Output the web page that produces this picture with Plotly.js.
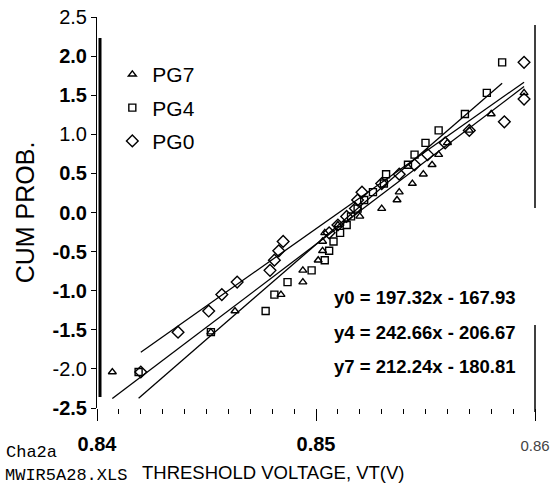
<!DOCTYPE html>
<html><head><meta charset="utf-8">
<script src="https://cdn.plot.ly/plotly-3.0.1.min.js"></script>
<style>html,body{margin:0;padding:0;background:#fff}#chart{width:554px;height:498px}</style>
</head><body><div id="chart"></div>
<script>
// ---- data ----
const seriesNames = ['PG7', 'PG4', 'PG0'];
const pg7X = [0.8407,0.8452,0.8463,0.8484,0.8494,0.8494,0.8501,0.8503,0.8503,0.8504,0.8510,0.8520,0.8530,0.8537,0.8538,0.8544,0.8549,0.8553,0.8556,0.8560,0.8570,0.8580,0.8595];
const pg7Y = [-2.04,-1.53,-1.26,-1.05,-0.89,-0.74,-0.61,-0.49,-0.37,-0.26,-0.16,-0.05,0.05,0.16,0.26,0.37,0.49,0.61,0.74,0.89,1.05,1.26,1.53];
const pg4X = [0.8419,0.8452,0.8477,0.8481,0.8487,0.8498,0.8504,0.8506,0.8508,0.8511,0.8514,0.8516,0.8519,0.8522,0.8526,0.8531,0.8532,0.8542,0.8545,0.8550,0.8556,0.8568,0.8578,0.8585];
const pg4Y = [-2.04,-1.53,-1.26,-1.05,-0.89,-0.74,-0.61,-0.49,-0.37,-0.26,-0.16,-0.05,0.05,0.16,0.26,0.37,0.49,0.61,0.74,0.89,1.05,1.26,1.53,1.92];
const pg0X = [0.8420,0.8437,0.8451,0.8457,0.8464,0.8479,0.8481,0.8483,0.8485,0.8506,0.8510,0.8514,0.8518,0.8519,0.8521,0.8530,0.8538,0.8545,0.8551,0.8559,0.8570,0.8586,0.8595,0.8595];
const pg0Y = [-2.04,-1.53,-1.26,-1.05,-0.89,-0.74,-0.61,-0.49,-0.37,-0.26,-0.16,-0.05,0.05,0.16,0.26,0.37,0.49,0.61,0.74,0.89,1.05,1.16,1.45,1.92];
const fitSlopes = [212.24, 242.66, 197.32];       // PG7, PG4, PG0
const fitIntercepts = [-180.81, -206.67, -167.93];
const fitXStart = [0.8407, 0.8419, 0.8420];
const fitXEnd = [0.8595, 0.8585, 0.8595];
const equationLabels = ['y0 = 197.32x - 167.93', 'y4 = 242.66x - 206.67', 'y7 = 212.24x - 180.81'];
const yTickVals = [-2.5,-2.0,-1.5,-1.0,-0.5,0.0,0.5,1.0,1.5,2.0,2.5];
const yTickText = ['<b>-2.5</b>','-2.0','<b>-1.5</b>','<b>-1.0</b>','<b>-0.5</b>','<b>0.0</b>','<b>0.5</b>','1.0','<b>1.5</b>','<b>2.0</b>','2.5'];
const xTickVals = [0.84, 0.85, 0.86];
const xTickText = ['<b>0.84</b>', '<b>0.85</b>', '<span style="font-size:15px;color:#444">0.86</span>'];
const yTitle = 'CUM PROB.';
const xTitle = 'THRESHOLD VOLTAGE, VT(V)';
const noteLines = ['Cha2a', 'MWIR5A28.XLS'];

// ---- build ----
const xs = [pg7X, pg4X, pg0X];
const ys = [pg7Y, pg4Y, pg0Y];
const symbols = ['triangle-up-open', 'square-open', 'diamond-open'];
const sizes = [7, 7, 9];
const traces = [];
for (let i = 0; i < 3; i++) {
  traces.push({
    type: 'scatter', mode: 'lines', x: [fitXStart[i], fitXEnd[i]],
    y: [fitSlopes[i]*fitXStart[i] + fitIntercepts[i], fitSlopes[i]*fitXEnd[i] + fitIntercepts[i]],
    line: {color: '#000', width: 1.3}, showlegend: false, hoverinfo: 'skip'
  });
}
for (let i = 0; i < 3; i++) {
  traces.push({
    type: 'scatter', mode: 'markers', name: seriesNames[i], x: xs[i], y: ys[i],
    legendgroup: seriesNames[i],
    marker: {symbol: symbols[i], size: sizes[i], color: '#000', line: {color: '#000', width: 1.4}}
  });
}
const px = v => (v - 97) / 438;
const py = v => (408 - v) / 391;
const mono = 'Liberation Mono, DejaVu Sans Mono, monospace';
const sans = 'Liberation Sans, Arial, sans-serif';
const annotations = [];
const eqRows = [297, 332, 366];
for (let i = 0; i < 3; i++) {
  annotations.push({xref: 'paper', yref: 'paper', x: px(332), y: py(eqRows[i]), xanchor: 'left', yanchor: 'middle',
    text: '<b>' + equationLabels[i] + '</b>', showarrow: false,
    font: {family: sans, size: 18.5, color: '#000'}});
}
annotations.push({xref: 'paper', yref: 'paper', x: px(4), y: py(452), xanchor: 'left', yanchor: 'middle',
  text: noteLines[0], showarrow: false, font: {family: mono, size: 17, color: '#000'}});
annotations.push({xref: 'paper', yref: 'paper', x: px(3), y: py(476), xanchor: 'left', yanchor: 'middle',
  text: noteLines[1], showarrow: false, font: {family: mono, size: 17, color: '#000'}});
annotations.push({xref: 'paper', yref: 'paper', x: px(273), y: py(472), xanchor: 'center', yanchor: 'middle',
  text: xTitle, showarrow: false, font: {family: sans, size: 18.5, color: '#000'}});

const layout = {
  width: 554, height: 498,
  margin: {l: 97, r: 19, t: 17, b: 90},
  paper_bgcolor: '#fff', plot_bgcolor: '#fff',
  font: {family: sans, color: '#000', size: 20},
  showlegend: true,
  legend: {x: 0.035, y: 0.905, xanchor: 'left', yanchor: 'top', bgcolor: 'rgba(0,0,0,0)',
    font: {family: sans, size: 21, color: '#000'},
    traceorder: 'grouped', tracegroupgap: 3},
  xaxis: {range: [0.84, 0.86], showgrid: false, zeroline: false, showline: false,
    tickmode: 'array', tickvals: xTickVals, ticktext: xTickText,
    ticks: 'outside', ticklen: 12, tickcolor: '#000', tickwidth: 1,
    ticklabelstandoff: 6,
    minor: {dtick: 0.001, ticks: 'outside', ticklen: 5, tickcolor: '#000', showgrid: false},
    tickfont: {family: sans, size: 20, color: '#000'}},
  yaxis: {range: [-2.5, 2.5], showgrid: false, zeroline: false, showline: true, linecolor: '#000', linewidth: 1,
    tickmode: 'array', tickvals: yTickVals, ticktext: yTickText,
    ticks: 'outside', ticklen: 5, tickcolor: '#000',
    tickfont: {family: sans, size: 20, color: '#000'},
    title: {text: yTitle, standoff: 10, font: {family: sans, size: 25, color: '#000'}}},
  annotations: annotations,
  shapes: [
    {type: 'line', xref: 'paper', yref: 'paper', x0: px(100), x1: px(100), y0: py(38), y1: py(397), line: {color: '#000', width: 3}},
    {type: 'line', xref: 'paper', yref: 'paper', x0: 1, x1: 1, y0: py(25), y1: py(208), line: {color: '#000', width: 1.5}},
    {type: 'line', xref: 'paper', yref: 'paper', x0: 1, x1: 1, y0: py(325), y1: py(412), line: {color: '#000', width: 1.5}}
  ]
};
Plotly.newPlot('chart', traces, layout, {displayModeBar: false, staticPlot: true});
</script>
</body></html>
